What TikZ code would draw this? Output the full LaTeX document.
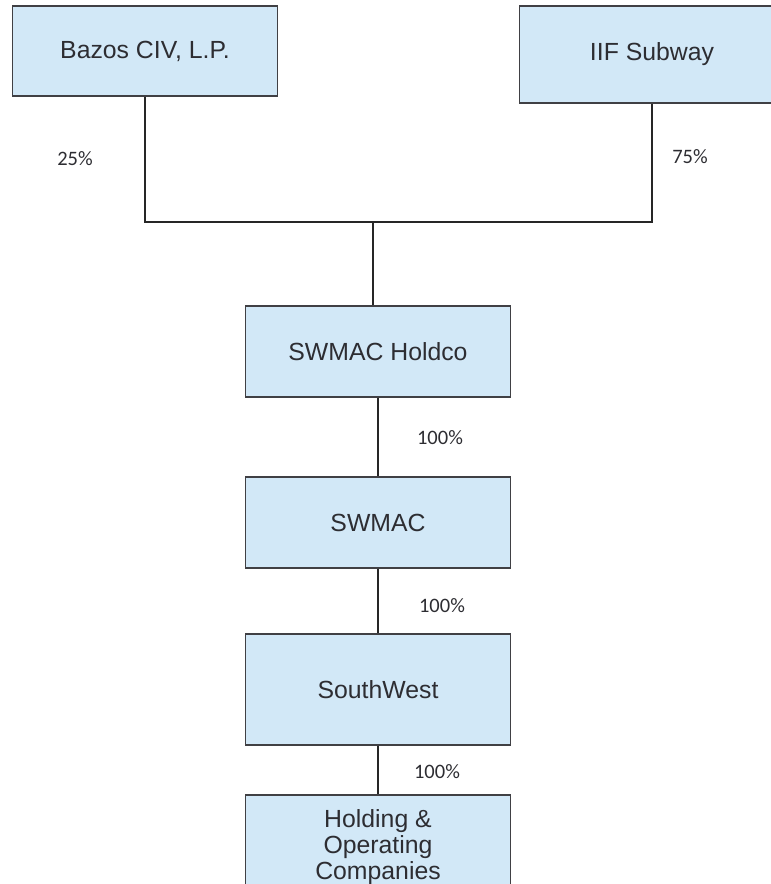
\documentclass[tikz,border=0pt]{standalone}
\usepackage{fontspec}
\setmainfont{Liberation Sans}
\newfontfamily\pctfont{Carlito}
\definecolor{boxfill}{RGB}{210,232,247}
\definecolor{boxline}{RGB}{64,64,68}
\definecolor{inktext}{RGB}{45,45,50}
\begin{document}
\begin{tikzpicture}[
   x=1pt, y=-1pt,
   entity/.style={draw=boxline, fill=boxfill, line width=1.2pt, text=inktext,
                  minimum width=265pt, align=center, inner sep=0pt,
                  font=\fontsize{24.8}{26}\selectfont},
   share/.style={text=inktext, inner sep=0pt, font=\pctfont\fontsize{20.5}{22}\selectfont},
   link/.style={draw=black!85, line width=1.2pt}]

\clip (0,0) rectangle (771,884);
\useasboundingbox (0,0) rectangle (771,884);

\node[entity, minimum height=90pt] (bazos) at (145,51) {Bazos CIV, L.P.};
\node[entity, minimum height=97pt] (iif) at (652,54.5) {IIF Subway};
\node[entity, minimum height=91pt] (holdco) at (378,351.5) {SWMAC Holdco};
\node[entity, minimum height=91pt] (swmac) at (378,522.5) {SWMAC};
\node[entity, minimum height=111pt] (southwest) at (378,689.5) {SouthWest};
\node[entity, minimum height=104pt] (holding) at (378,847) {Holding \&\\Operating\\Companies};

\coordinate (junction) at (373,222);

\draw[link] (bazos.south) |- (junction) -| (iif.south);
\draw[link] (junction) -- (junction |- holdco.north);
\draw[link] (holdco.south) -- (swmac.north);
\draw[link] (swmac.south) -- (southwest.north);
\draw[link] (southwest.south) -- (holding.north);

\node[share] (pctbazos) at (75,159) {25\%};
\node[share] (pctiif) at (690,157) {75\%};
\node[share] (pctholdco) at (440,438) {100\%};
\node[share] (pctswmac) at (442,606) {100\%};
\node[share] (pctsouthwest) at (437,772) {100\%};

\end{tikzpicture}
\end{document}
